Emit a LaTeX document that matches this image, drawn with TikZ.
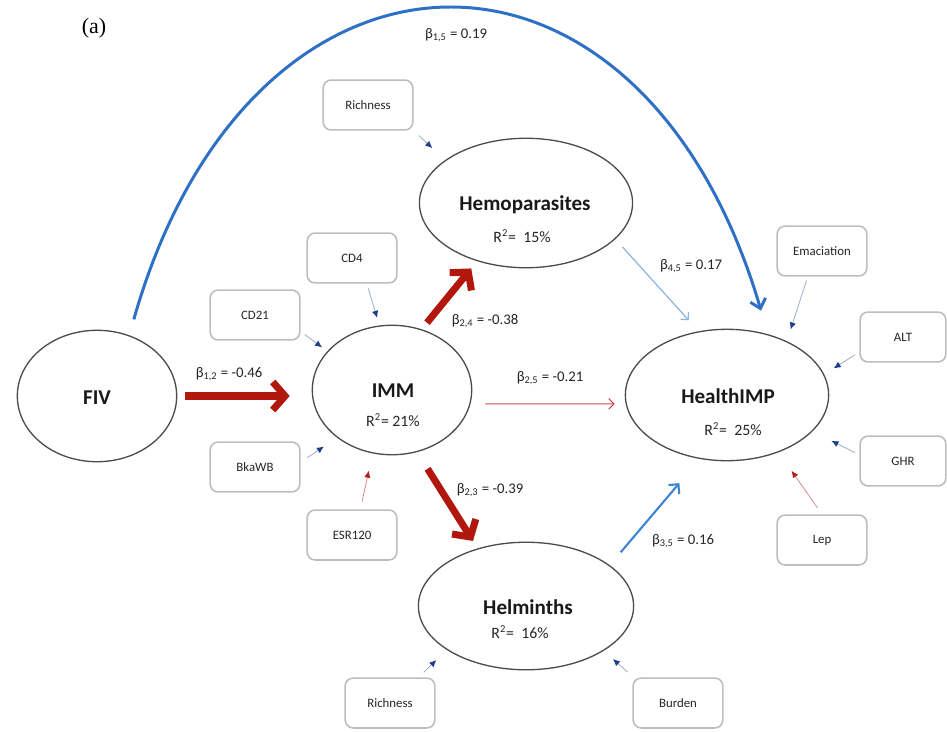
\documentclass[tikz,border=0pt]{standalone}
\usepackage{fontspec}
\setmainfont{Carlito}
\newfontfamily\serifa{Liberation Serif}
\usetikzlibrary{arrows.meta,shapes.geometric}
\definecolor{thkred}{HTML}{B2170E}
\definecolor{thnred}{HTML}{C8484A}
\definecolor{curveblue}{HTML}{2E70C6}
\definecolor{midblue}{HTML}{3D86D4}
\definecolor{ltblue}{HTML}{8FB5E0}
\definecolor{indline}{HTML}{9DAFC8}
\definecolor{indhead}{HTML}{1E3C8C}
\definecolor{indredline}{HTML}{D98A8A}
\definecolor{indredhead}{HTML}{B02020}
\begin{document}
\begin{tikzpicture}[x=0.02cm,y=-0.02cm,
  ell/.style={ellipse, draw=black!70, line width=0.75pt, inner sep=0pt},
  box/.style={rectangle, rounded corners=4.5pt, draw=black!26, line width=0.9pt,
    minimum width=51pt, minimum height=28.4pt, inner sep=0pt, text=black!85,
    font=\fontsize{7.3}{8}\selectfont},
  ttl/.style={font=\bfseries\fontsize{12}{14}\selectfont, text=black!90, inner sep=0pt},
  rsq/.style={font=\fontsize{9}{10}\selectfont, text=black!85, inner sep=0pt},
  coef/.style={font=\fontsize{8.4}{10}\selectfont, text=black!85, inner sep=0pt},
  thickred/.style={draw=thkred, line width=4pt, -{Straight Barb[length=7pt,width=16pt]}},
  thinred/.style={draw=thnred, line width=0.6pt, -{Straight Barb[length=3pt,width=6pt]}},
  thinblue/.style={draw=ltblue, line width=0.7pt, -{Straight Barb[length=3pt,width=6pt]}},
  medblue/.style={draw=midblue, line width=1.2pt, -{Straight Barb[length=4pt,width=8pt]}},
  bigblue/.style={draw=curveblue, line width=1.7pt, -{Straight Barb[length=5pt,width=9pt]}},
  ind/.style={draw=indline, line width=0.45pt, -{Latex[length=4pt,width=3.6pt,color=indhead]}},
  indred/.style={draw=indredline, line width=0.45pt, -{Latex[length=4pt,width=3.6pt,color=indredhead]}}
]
\useasboundingbox[fill=white] (0,0) rectangle (947,731);

% latent variables
\node[ell, minimum width=90.7pt, minimum height=74.8pt] (fiv) at (97,396) {};
\node[ell, minimum width=90.7pt, minimum height=73.7pt] (imm) at (392,390) {};
\node[ell, minimum width=121.3pt, minimum height=73.7pt] (hemo) at (526,203) {};
\node[ell, minimum width=122.5pt, minimum height=72.6pt] (helm) at (526,606) {};
\node[ell, minimum width=115.7pt, minimum height=74.8pt] (health) at (727,395) {};

\node[ttl] (fivt) at (97,398) {FIV};
\node[ttl] (immt) at (393,391) {IMM};
\node[rsq] (immr) at (393,420) {R\textsuperscript{2}= 21\%};
\node[ttl] (hemot) at (525,205) {Hemoparasites};
\node[rsq] (hemor) at (522,236) {R\textsuperscript{2}=\ \ 15\%};
\node[ttl] (helmt) at (528,607) {Helminths};
\node[rsq] (helmr) at (520,632) {R\textsuperscript{2}=\ \ 16\%};
\node[ttl] (healtht) at (728,396) {HealthIMP};
\node[rsq] (healthr) at (733,429) {R\textsuperscript{2}=\ \ 25\%};

% indicators
\node[box] (rich1) at (368,105) {Richness};
\node[box] (cd4) at (352,258) {CD4};
\node[box] (cd21) at (255,315) {CD21};
\node[box] (bka) at (255,467) {BkaWB};
\node[box] (esr) at (352,535) {ESR120};
\node[box] (ema) at (822,251) {Emaciation};
\node[box, minimum width=48.8pt] (alt) at (903,337) {ALT};
\node[box, minimum width=48.8pt] (ghr) at (903,461) {GHR};
\node[box] (lep) at (822,540) {Lep};
\node[box] (rich2) at (390,703) {Richness};
\node[box] (burden) at (678,703) {Burden};

% label
\node[font=\serifa\fontsize{12.5}{14}\selectfont, inner sep=0pt] (lbl) at (94,28) {(a)};

% structural paths
\draw[thickred, shorten <=4.5pt, shorten >=12.5pt] (fiv.east) -- (fiv.east -| imm.west);
\draw[thickred, shorten <=4.8pt, shorten >=5.3pt] (imm.64) -- (hemo.230);
\draw[thickred, shorten <=11.2pt, shorten >=5pt] (imm.-68) -- (helm.130);
\draw[thinred, shorten <=8.5pt, shorten >=6.2pt] (imm.-10) -- (health.185);
\draw[thinblue, shorten <=6pt, shorten >=8.4pt] (hemo.-22) -- (health.114);
\draw[medblue, shorten <=9.6pt, shorten >=18pt] (helm.26) -- (health.247);
\draw[bigblue, shorten <=9.4pt, shorten >=14pt] (fiv.62) .. controls (250,-90) and (640,-100) .. (health.56);

% coefficients
\node[coef] (b15) at (456,35) {β\textsubscript{1,5} = 0.19};
\node[coef] (b12) at (229,374) {β\textsubscript{1,2} = -0.46};
\node[coef] (b24) at (485,321) {β\textsubscript{2,4} = -0.38};
\node[coef] (b25) at (550,378) {β\textsubscript{2,5} = -0.21};
\node[coef] (b45) at (691,266) {β\textsubscript{4,5} = 0.17};
\node[coef] (b23) at (490,490) {β\textsubscript{2,3} = -0.39};
\node[coef] (b35) at (683,541) {β\textsubscript{3,5} = 0.16};

% measurement paths
\draw[ind, shorten <=4pt, shorten >=10pt] (rich1.south east) -- (hemo.152);
\draw[ind, shorten <=2.8pt, shorten >=4.5pt] (cd4.-60) -- (imm.101);
\draw[ind, shorten <=2.8pt, shorten >=3.7pt] (cd21.-20) -- (imm.149);
\draw[ind, shorten <=4.5pt, shorten >=9pt] (bka.6) -- (imm.221);
\draw[indred, shorten <=4.5pt, shorten >=10pt] (esr.72) -- (imm.253);
\draw[ind, shorten <=2.3pt, shorten >=7pt] (ema.241) -- (health.42);
\draw[ind, shorten <=2.8pt, shorten >=6.4pt] (alt.199) -- (health.12);
\draw[ind, shorten <=2.8pt, shorten >=12pt] (ghr.172) -- (health.-23);
\draw[indred, shorten <=4.5pt, shorten >=12.8pt] (lep.north) -- (health.-48);
\draw[ind, shorten <=4pt, shorten >=8.2pt] (rich2.42) -- (helm.209);
\draw[ind, shorten <=4.5pt, shorten >=7pt] (burden.150) -- (helm.-30);
\end{tikzpicture}
\end{document}
